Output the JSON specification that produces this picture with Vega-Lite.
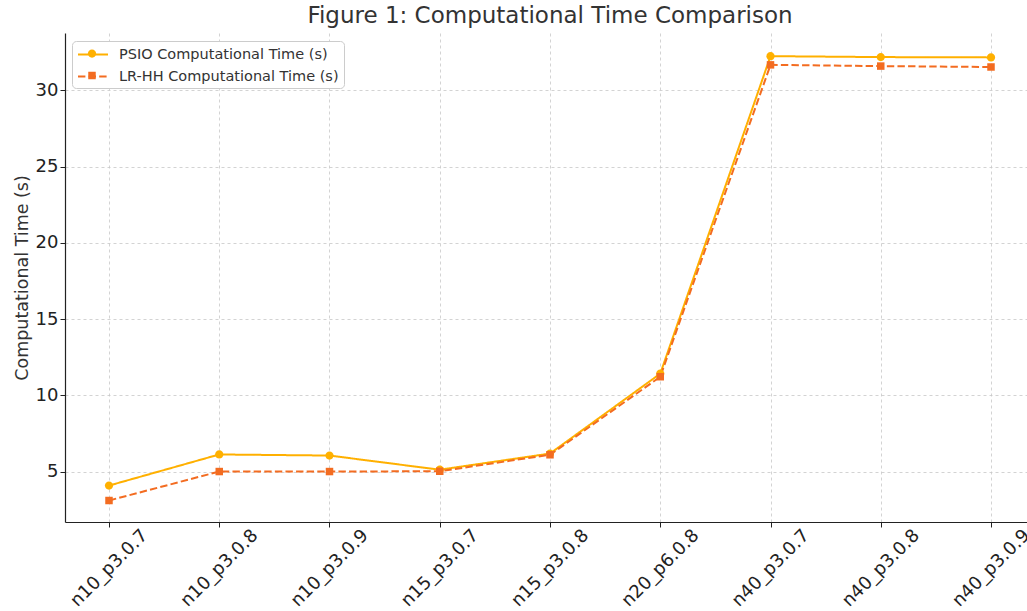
{
  "$schema": "https://vega.github.io/schema/vega-lite/v6.json",
  "width": 962,
  "height": 489,
  "autosize": {"type": "none"},
  "padding": {"left": 65, "top": 33, "right": 0, "bottom": 89},
  "background": "white",
  "config": {
    "font": "DejaVu Sans",
    "view": {"stroke": null},
    "axis": {
      "labelFont": "DejaVu Sans",
      "titleFont": "DejaVu Sans",
      "labelColor": "#222222",
      "tickColor": "#222222",
      "domainColor": "#222222",
      "domainWidth": 1.2,
      "tickWidth": 1,
      "tickSize": 5,
      "gridColor": "#c8c8c8",
      "gridDash": [3, 3],
      "gridWidth": 0.8
    }
  },
  "title": {
    "text": "Figure 1: Computational Time Comparison",
    "fontSize": 23,
    "fontWeight": "normal",
    "color": "#333333",
    "font": "DejaVu Sans",
    "anchor": "middle",
    "dx": 4,
    "offset": 5
  },
  "data": {
    "values": [
      {"config": "n10_p3.0.7", "PSIO Computational Time (s)": 4.08, "LR-HH Computational Time (s)": 3.1},
      {"config": "n10_p3.0.8", "PSIO Computational Time (s)": 6.12, "LR-HH Computational Time (s)": 5.0},
      {"config": "n10_p3.0.9", "PSIO Computational Time (s)": 6.05, "LR-HH Computational Time (s)": 5.0},
      {"config": "n15_p3.0.7", "PSIO Computational Time (s)": 5.12, "LR-HH Computational Time (s)": 5.02},
      {"config": "n15_p3.0.8", "PSIO Computational Time (s)": 6.18, "LR-HH Computational Time (s)": 6.1},
      {"config": "n20_p6.0.8", "PSIO Computational Time (s)": 11.42, "LR-HH Computational Time (s)": 11.22},
      {"config": "n40_p3.0.7", "PSIO Computational Time (s)": 32.25, "LR-HH Computational Time (s)": 31.68},
      {"config": "n40_p3.0.8", "PSIO Computational Time (s)": 32.19, "LR-HH Computational Time (s)": 31.6},
      {"config": "n40_p3.0.9", "PSIO Computational Time (s)": 32.17, "LR-HH Computational Time (s)": 31.54}
    ]
  },
  "layer": [
    {
      "transform": [{"fold": ["PSIO Computational Time (s)", "LR-HH Computational Time (s)"], "as": ["series", "time"]}],
      "mark": {"type": "line", "strokeWidth": 2},
      "encoding": {
        "x": {
          "field": "config", "type": "nominal", "sort": null,
          "scale": {"type": "point", "padding": 0.3628, "align": 0.55},
          "axis": {"title": null, "grid": true, "labelAngle": -45, "labelAlign": "center", "labelBaseline": "middle", "labelPadding": 41, "labelFontSize": 18, "labelOverlap": false, "labelBound": false}
        },
        "y": {
          "field": "time", "type": "quantitative",
          "scale": {"domain": [1.69, 33.77], "nice": false, "zero": false},
          "axis": {"values": [5, 10, 15, 20, 25, 30], "title": "Computational Time (s)", "titleFontSize": 17.5, "titleFontWeight": "normal", "titleColor": "#333333", "titlePadding": 4, "labelFontSize": 18, "labelPadding": 2, "grid": true}
        },
        "stroke": {
          "field": "series", "type": "nominal", "sort": null,
          "scale": {"range": ["#FFB000", "#F36C21"]},
          "legend": {"orient": "none", "legendX": 7, "legendY": 8, "title": null, "symbolType": "M-1,0H3", "symbolSize": 225, "symbolStrokeWidth": 2, "symbolFillColor": "transparent", "labelFontSize": 14.5, "labelColor": "#333333", "labelLimit": 0, "labelOffset": 25, "padding": 5, "rowPadding": 7, "fillColor": "white", "strokeColor": "#cccccc", "cornerRadius": 4, "zindex": 1}
        },
        "strokeDash": {
          "field": "series", "type": "nominal", "sort": null,
          "scale": {"range": [[1, 0], [7.4, 3.2]]},
          "legend": {"orient": "none", "legendX": 7, "legendY": 8, "title": null, "symbolType": "M-1,0H3", "symbolSize": 225, "symbolStrokeWidth": 2, "symbolFillColor": "transparent", "labelFontSize": 14.5, "labelColor": "#333333", "labelLimit": 0, "labelOffset": 25, "padding": 5, "rowPadding": 7, "fillColor": "white", "strokeColor": "#cccccc", "cornerRadius": 4, "zindex": 1}
        }
      }
    },
    {
      "transform": [{"fold": ["PSIO Computational Time (s)", "LR-HH Computational Time (s)"], "as": ["marker", "time"]}],
      "mark": {"type": "point", "filled": true, "opacity": 1, "size": 225, "strokeWidth": 0},
      "encoding": {
        "x": {"field": "config", "type": "nominal", "sort": null},
        "y": {"field": "time", "type": "quantitative"},
        "fill": {
          "field": "marker", "type": "nominal", "sort": null,
          "scale": {"range": ["#FFB000", "#F36C21"]},
          "legend": {"orient": "none", "legendX": 14.5, "legendY": 8, "title": null, "symbolSize": 225, "symbolStrokeWidth": 0, "symbolOpacity": 1, "labelFontSize": 14.5, "labelExpr": "''", "labelOffset": 25, "padding": 5, "rowPadding": 7, "zindex": 2}
        },
        "shape": {
          "field": "marker", "type": "nominal", "sort": null,
          "scale": {"range": ["M-0.55,0A0.55,0.55 0 1,0 0.55,0A0.55,0.55 0 1,0 -0.55,0Z", "M-0.5,-0.5H0.5V0.5H-0.5Z"]},
          "legend": {"orient": "none", "legendX": 14.5, "legendY": 8, "title": null, "symbolSize": 225, "symbolStrokeWidth": 0, "symbolOpacity": 1, "labelFontSize": 14.5, "labelExpr": "''", "labelOffset": 25, "padding": 5, "rowPadding": 7, "zindex": 2}
        }
      }
    }
  ]
}
